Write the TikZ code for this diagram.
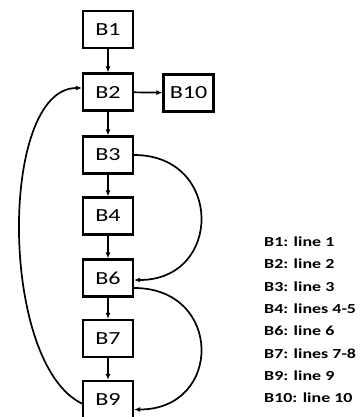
\documentclass[tikz,border=0pt]{standalone}
\usepackage{fontspec}
\setmainfont{Carlito}[FakeStretch=1.3]
\usetikzlibrary{arrows.meta}
\begin{document}
\begin{tikzpicture}[x=1pt,y=-1pt,
  blk/.style={draw, line width=2.2pt, minimum width=50pt, minimum height=37pt, inner sep=0pt,
              font=\fontsize{18.5}{20}\selectfont},
  leg/.style={anchor=base west, inner sep=0pt, font=\fontsize{13.8}{16}\selectfont\bfseries},
  arr/.style={-{Latex[length=6pt,width=5pt]}, line width=1.7pt}]
\useasboundingbox (0,0) rectangle (360,417);
\node[blk] (B1) at (108,29.5) {B1};
\node[blk] (B2) at (108,92) {B2};
\node[blk] (B10) at (188.5,93) {B10};
\node[blk] (B3) at (108,155) {B3};
\node[blk] (B4) at (108,216) {B4};
\node[blk] (B6) at (108,278) {B6};
\node[blk] (B7) at (108,338.5) {B7};
\node[blk] (B9) at (108,399.5) {B9};

\draw[arr] (B1) -- (B2);
\draw[arr] (B2) -- (B10);
\draw[arr] (B2) -- (B3);
\draw[arr] (B3) -- (B4);
\draw[arr] (B4) -- (B6);
\draw[arr] (B6) -- (B7);
\draw[arr] (B7) -- (B9);
\draw[arr] (B3.east) .. controls +(89,0) and +(89,0) .. ([yshift=-2pt]B6.east);
\draw[arr] ([yshift=-10pt]B6.east) .. controls +(89,0) and +(89,0) .. ([yshift=-10pt]B9.east);
\draw[arr] ([yshift=-4pt]B9.west) .. controls +(-83,-40) and +(-83,0) .. ([yshift=4pt]B2.west);

\node[leg] (L1) at (264,246.5) {B1: line 1};
\node[leg] (L2) at (264,268.8) {B2: line 2};
\node[leg] (L3) at (264,291.1) {B3: line 3};
\node[leg] (L4) at (264,313.4) {B4: lines 4-5};
\node[leg] (L5) at (264,335.7) {B6: line 6};
\node[leg] (L6) at (264,358.0) {B7: lines 7-8};
\node[leg] (L7) at (264,380.3) {B9: line 9};
\node[leg] (L8) at (264,402.6) {B10: line 10};
\end{tikzpicture}
\end{document}
